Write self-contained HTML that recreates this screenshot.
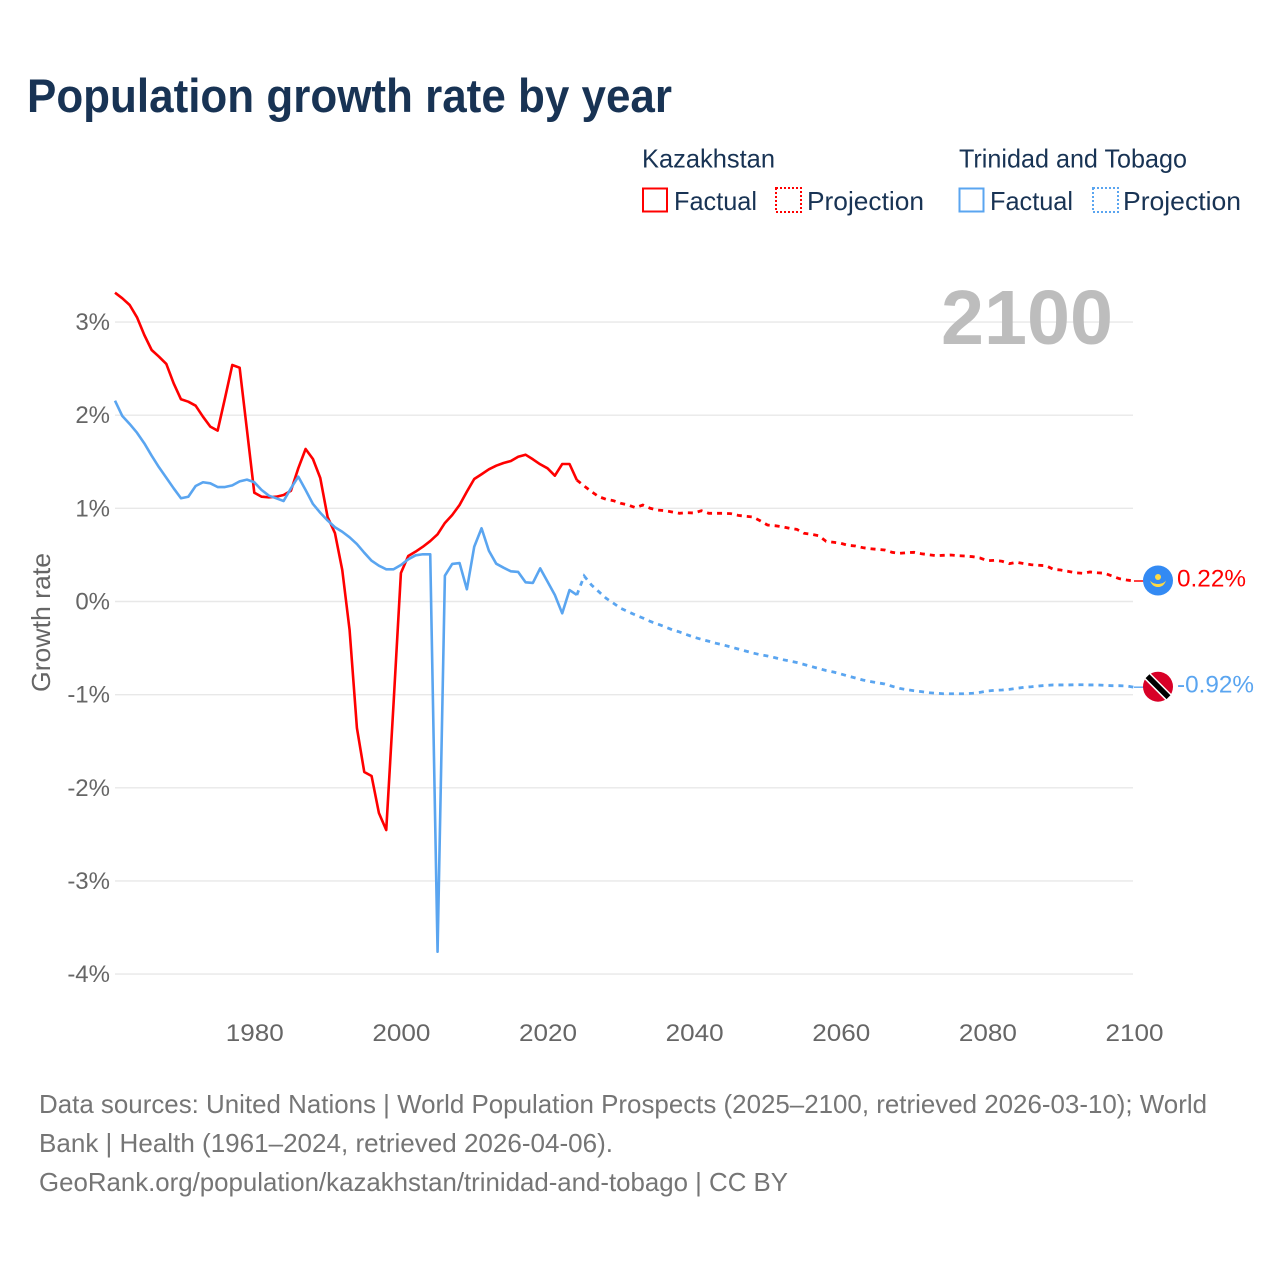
<!DOCTYPE html>
<html lang="en">
<head>
<meta charset="utf-8">
<title>Population growth rate by year</title>
<style>
html,body{margin:0;padding:0;background:#fff;}
body{width:1280px;height:1280px;overflow:hidden;}
svg{display:block;font-family:"Liberation Sans",sans-serif;}
.legend-text{font-size:26px;fill:#183354;}
.foot{font-size:26px;fill:#757575;}
</style>
</head>
<body>
<svg id="chart" xmlns="http://www.w3.org/2000/svg" width="1280" height="1280" viewBox="0 0 1280 1280">
  <rect x="0" y="0" width="1280" height="1280" fill="#ffffff"/>
  <text x="27" y="112" font-size="47.500" font-weight="700" fill="#183354" textLength="645" lengthAdjust="spacingAndGlyphs">Population growth rate by year</text>

  <g>
    <text class="legend-text" x="642" y="167.500" textLength="133" lengthAdjust="spacingAndGlyphs">Kazakhstan</text>
    <text class="legend-text" x="959" y="167.500" textLength="228" lengthAdjust="spacingAndGlyphs">Trinidad and Tobago</text>
    <rect x="643" y="188.500" width="24" height="23" fill="none" stroke="#ff0000" stroke-width="2"/>
    <text class="legend-text" x="674" y="210" textLength="83" lengthAdjust="spacingAndGlyphs">Factual</text>
    <rect x="776" y="188" width="25" height="24" fill="none" stroke="#ff0000" stroke-width="2" stroke-dasharray="2 2"/>
    <text class="legend-text" x="807" y="210" textLength="117" lengthAdjust="spacingAndGlyphs">Projection</text>
    <rect x="959.500" y="188.500" width="24" height="23" fill="none" stroke="#5aa5f0" stroke-width="2"/>
    <text class="legend-text" x="990" y="210" textLength="83" lengthAdjust="spacingAndGlyphs">Factual</text>
    <rect x="1093" y="188" width="25" height="24" fill="none" stroke="#5aa5f0" stroke-width="2" stroke-dasharray="2 2"/>
    <text class="legend-text" x="1123" y="210" textLength="118" lengthAdjust="spacingAndGlyphs">Projection</text>
  </g>

  <g id="grid"></g>
  <g id="yticks"></g>
  <g id="xticks"></g>

  <text x="941" y="344" font-size="77" font-weight="700" fill="#bdbdbd" textLength="172" lengthAdjust="spacingAndGlyphs">2100</text>
  <text transform="translate(50,692) rotate(-90)" font-size="26" fill="#666666" textLength="139" lengthAdjust="spacingAndGlyphs">Growth rate</text>

  <g id="series"></g>
  <g id="ends"></g>

  <g>
    <text class="foot" x="39" y="1113" textLength="1168" lengthAdjust="spacingAndGlyphs">Data sources: United Nations | World Population Prospects (2025–2100, retrieved 2026-03-10); World</text>
    <text class="foot" x="39" y="1152" textLength="574" lengthAdjust="spacingAndGlyphs">Bank | Health (1961–2024, retrieved 2026-04-06).</text>
    <text class="foot" x="39" y="1191" textLength="749" lengthAdjust="spacingAndGlyphs">GeoRank.org/population/kazakhstan/trinidad-and-tobago | CC BY</text>
  </g>
</svg>

<script>
const yTickValues = [3, 2, 1, 0, -1, -2, -3, -4];
const xTickYears = [1980, 2000, 2020, 2040, 2060, 2080, 2100];
const factualStartYear = 1961;
const projectionStartYear = 2024;

const kazakhstanFactual = [
  3.315, 3.255, 3.183, 3.051, 2.861, 2.700, 2.628, 2.550, 2.342, 2.171,
  2.145, 2.102, 1.984, 1.877, 1.834, 2.181, 2.539, 2.510, 1.841, 1.168,
  1.125, 1.119, 1.125, 1.143, 1.189, 1.430, 1.637, 1.530, 1.326, 0.907,
  0.735, 0.338, -0.306, -1.358, -1.830, -1.873, -2.271, -2.453, -1.090, 0.306,
  0.488, 0.535, 0.588, 0.649, 0.721, 0.843, 0.929, 1.036, 1.179, 1.315,
  1.366, 1.419, 1.458, 1.487, 1.508, 1.554, 1.576, 1.527, 1.473, 1.430,
  1.351, 1.476, 1.476, 1.304
];
const kazakhstanProjection = [
  1.304, 1.240, 1.179, 1.125, 1.097, 1.082, 1.054, 1.036, 1.007, 1.036,
  1.001, 0.982, 0.975, 0.961, 0.947, 0.953, 0.950, 0.975, 0.947, 0.947,
  0.947, 0.943, 0.925, 0.915, 0.907, 0.867, 0.821, 0.814, 0.803, 0.786,
  0.775, 0.732, 0.721, 0.706, 0.646, 0.636, 0.625, 0.603, 0.596, 0.578,
  0.567, 0.560, 0.553, 0.528, 0.517, 0.524, 0.528, 0.513, 0.502, 0.492,
  0.496, 0.499, 0.492, 0.488, 0.481, 0.467, 0.438, 0.442, 0.432, 0.406,
  0.421, 0.406, 0.395, 0.389, 0.384, 0.346, 0.338, 0.324, 0.309, 0.303,
  0.317, 0.309, 0.303, 0.274, 0.245, 0.231, 0.220
];
const trinidadFactual = [
  2.156, 1.991, 1.906, 1.812, 1.698, 1.565, 1.441, 1.329, 1.215, 1.108,
  1.125, 1.240, 1.280, 1.269, 1.229, 1.229, 1.247, 1.290, 1.308, 1.280,
  1.197, 1.136, 1.108, 1.079, 1.215, 1.340, 1.197, 1.047, 0.953, 0.870,
  0.797, 0.749, 0.689, 0.617, 0.524, 0.438, 0.384, 0.346, 0.346, 0.392,
  0.453, 0.496, 0.507, 0.507, -3.760, 0.277, 0.403, 0.413, 0.131, 0.588,
  0.786, 0.545, 0.406, 0.363, 0.324, 0.317, 0.206, 0.199, 0.356, 0.213,
  0.070, -0.127, 0.123, 0.070
];
const trinidadProjection = [
  0.070, 0.274, 0.177, 0.105, 0.034, -0.019, -0.073, -0.110, -0.145, -0.177,
  -0.213, -0.242, -0.271, -0.303, -0.327, -0.356, -0.384, -0.406, -0.427, -0.449,
  -0.467, -0.488, -0.510, -0.531, -0.553, -0.571, -0.585, -0.603, -0.623, -0.639,
  -0.655, -0.676, -0.698, -0.719, -0.741, -0.757, -0.778, -0.800, -0.821, -0.843,
  -0.859, -0.872, -0.886, -0.910, -0.932, -0.947, -0.958, -0.968, -0.979, -0.985,
  -0.990, -0.990, -0.990, -0.990, -0.985, -0.975, -0.961, -0.953, -0.950, -0.943,
  -0.932, -0.921, -0.915, -0.907, -0.900, -0.896, -0.896, -0.896, -0.894, -0.894,
  -0.896, -0.896, -0.900, -0.904, -0.904, -0.907, -0.920
];
const endLabels = ["0.22%", "-0.92%"];

const SVGNS = "http://www.w3.org/2000/svg";
function xScale(year) { return 115 + (year - 1961) * (1134 - 115) / 139; }
function yScale(value) { return 601.5 - value * 93.15; }
function mk(tag, parent) {
  const el = document.createElementNS(SVGNS, tag);
  parent.appendChild(el);
  return el;
}
function pathFor(values, startYear) {
  return values.map(function (v, i) {
    return (i ? "L" : "M") + xScale(startYear + i).toFixed(2) + " " + yScale(v).toFixed(2);
  }).join(" ");
}

const gridG = document.getElementById("grid");
const yG = document.getElementById("yticks");
yTickValues.forEach(function (v) {
  const line = mk("line", gridG);
  
  
  line.setAttribute("x1", 115);
  line.setAttribute("x2", 1133);
  line.setAttribute("y1", yScale(v));
  line.setAttribute("y2", yScale(v));
  line.setAttribute("stroke", "#e8e8e8");
  line.setAttribute("stroke-width", "1.4");
  const t = mk("text", yG);
  
  
  t.setAttribute("x", 110);
  t.setAttribute("y", yScale(v) + 8);
  t.setAttribute("text-anchor", "end");
  t.setAttribute("font-size", "24");
  t.setAttribute("fill", "#666666");
  t.textContent = v + "%";
});

const xG = document.getElementById("xticks");
xTickYears.forEach(function (yr) {
  const t = mk("text", xG);
  
  
  t.setAttribute("x", xScale(yr) - 28.5);
  t.setAttribute("y", 1041);
  t.setAttribute("font-size", "24");
  t.setAttribute("fill", "#666666");
  t.setAttribute("textLength", "58");
  t.setAttribute("lengthAdjust", "spacingAndGlyphs");
  t.textContent = String(yr);
});

const RED = "#ff0000";
const BLUE = "#5aa5f0";
const sG = document.getElementById("series");

const lineKzFactual = mk("path", sG);


lineKzFactual.setAttribute("d", pathFor(kazakhstanFactual, factualStartYear));
lineKzFactual.setAttribute("fill", "none");
lineKzFactual.setAttribute("stroke", RED);
lineKzFactual.setAttribute("stroke-width", "2.600");
lineKzFactual.setAttribute("stroke-linejoin", "round");

const lineKzProjection = mk("path", sG);


lineKzProjection.setAttribute("d", pathFor(kazakhstanProjection, projectionStartYear));
lineKzProjection.setAttribute("fill", "none");
lineKzProjection.setAttribute("stroke", RED);
lineKzProjection.setAttribute("stroke-width", "2.800");
lineKzProjection.setAttribute("stroke-dasharray", "5 5");

const lineTtFactual = mk("path", sG);


lineTtFactual.setAttribute("d", pathFor(trinidadFactual, factualStartYear));
lineTtFactual.setAttribute("fill", "none");
lineTtFactual.setAttribute("stroke", BLUE);
lineTtFactual.setAttribute("stroke-width", "2.600");
lineTtFactual.setAttribute("stroke-linejoin", "round");

const lineTtProjection = mk("path", sG);


lineTtProjection.setAttribute("d", pathFor(trinidadProjection, projectionStartYear));
lineTtProjection.setAttribute("fill", "none");
lineTtProjection.setAttribute("stroke", BLUE);
lineTtProjection.setAttribute("stroke-width", "2.800");
lineTtProjection.setAttribute("stroke-dasharray", "5 5");

/* End-of-line connectors, flags, and value labels follow the last values */
const eG = document.getElementById("ends");
const lastYear = 2100;
const flagX = 1158;
const kzY = yScale(kazakhstanProjection[kazakhstanProjection.length - 1]);
const ttY = yScale(trinidadProjection[trinidadProjection.length - 1]);

const kzConnector = mk("line", eG);


kzConnector.setAttribute("x1", xScale(lastYear));
kzConnector.setAttribute("x2", flagX);
kzConnector.setAttribute("y1", kzY);
kzConnector.setAttribute("y2", kzY);
kzConnector.setAttribute("stroke", RED);
kzConnector.setAttribute("stroke-width", "1.400");

const ttConnector = mk("line", eG);


ttConnector.setAttribute("x1", xScale(lastYear));
ttConnector.setAttribute("x2", flagX);
ttConnector.setAttribute("y1", ttY);
ttConnector.setAttribute("y2", ttY);
ttConnector.setAttribute("stroke", BLUE);
ttConnector.setAttribute("stroke-width", "1.400");

const kzFlag = mk("g", eG);


kzFlag.setAttribute("transform", "translate(" + flagX + " " + (kzY - 0.5) + ")");
kzFlag.innerHTML =
  '<circle r="15" fill="#338af3"/>' +
  '<circle cx="0" cy="-3.500" r="3" fill="#ffda44"/>' +
  '<path d="M-8 0 C-6 6 -2 6.500 0 6.500 C2 6.500 6 6 8 0 C6 2.500 3 3.500 0 3.500 C-3 3.500 -6 2.500 -8 0 Z" fill="#ffda44"/>';

const ttFlag = mk("g", eG);


ttFlag.setAttribute("transform", "translate(" + flagX + " " + (ttY - 0.5) + ")");
ttFlag.innerHTML =
  '<circle r="15" fill="#d80027"/>' +
  '<line x1="-11" y1="-11" x2="11" y2="11" stroke="#ffffff" stroke-width="8.500"/>' +
  '<line x1="-10.500" y1="-10.500" x2="10.500" y2="10.500" stroke="#000000" stroke-width="5.500"/>';

const kzLabel = mk("text", eG);


kzLabel.setAttribute("x", 1177);
kzLabel.setAttribute("y", kzY + 5.5);
kzLabel.setAttribute("font-size", "24");
kzLabel.setAttribute("fill", RED);
kzLabel.setAttribute("textLength", "69");
kzLabel.setAttribute("lengthAdjust", "spacingAndGlyphs");
kzLabel.textContent = endLabels[0];

const ttLabel = mk("text", eG);


ttLabel.setAttribute("x", 1177);
ttLabel.setAttribute("y", ttY + 5.5);
ttLabel.setAttribute("font-size", "24");
ttLabel.setAttribute("fill", BLUE);
ttLabel.setAttribute("textLength", "77");
ttLabel.setAttribute("lengthAdjust", "spacingAndGlyphs");
ttLabel.textContent = endLabels[1];
</script>
</body>
</html>
